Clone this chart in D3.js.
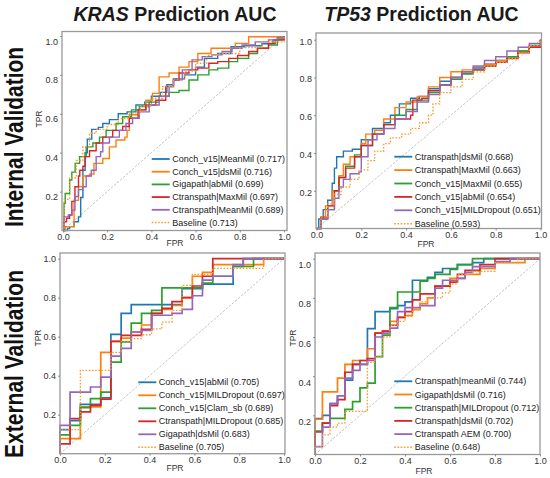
<!DOCTYPE html>
<html>
<head>
<meta charset="utf-8">
<script src="https://cdn.jsdelivr.net/npm/d3@7"></script>
<style>
  body { margin: 0; background: #fff; }
  text { font-family: "Liberation Sans", Arial, sans-serif; }
</style>
</head>
<body>
<svg id="chart" width="550" height="478"></svg>
<script>
// tick values shared by every panel
const xTicks = [0, 0.2, 0.4, 0.6, 0.8, 1.0];
const yTicks = [0.2, 0.4, 0.6, 0.8, 1.0];

// ---- KRAS, internal validation (fpr, tpr) ----
const krasIntNames = ["Conch_v15|MeanMil (0.717)", "Conch_v15|dsMil (0.716)", "Gigapath|abMil (0.699)",
  "Ctranspath|MaxMil (0.697)", "Ctranspath|MeanMil (0.689)", "Baseline (0.713)"];
const krasIntConchMean = [[0,0],[0.02,0.01],[0.03,0.02],[0.05,0.045],[0.07,0.07],[0.08,0.17],[0.09,0.31],[0.1,0.4],[0.11,0.47],[0.13,0.52],[0.16,0.53],[0.18,0.55],[0.21,0.57],[0.25,0.6],[0.29,0.61],[0.33,0.645],[0.37,0.66],[0.4,0.69],[0.44,0.71],[0.47,0.75],[0.5,0.78],[0.55,0.8],[0.6,0.84],[0.64,0.885],[0.7,0.91],[0.76,0.945],[0.82,0.95],[0.9,0.96],[0.95,0.98],[1,1]];
const krasIntConchDs = [[0,0],[0.01,0.02],[0.05,0.155],[0.07,0.225],[0.09,0.28],[0.12,0.29],[0.14,0.345],[0.18,0.37],[0.21,0.43],[0.24,0.465],[0.28,0.48],[0.29,0.515],[0.3,0.595],[0.34,0.62],[0.375,0.67],[0.405,0.705],[0.435,0.79],[0.48,0.81],[0.525,0.84],[0.57,0.868],[0.61,0.91],[0.67,0.937],[0.78,0.962],[0.84,0.996],[1,1]];
const krasIntGigaAb = [[0,0],[0.005,0.14],[0.01,0.19],[0.03,0.26],[0.04,0.3],[0.055,0.345],[0.075,0.38],[0.105,0.43],[0.135,0.45],[0.165,0.48],[0.195,0.515],[0.24,0.55],[0.27,0.585],[0.31,0.62],[0.345,0.637],[0.39,0.66],[0.435,0.69],[0.48,0.71],[0.525,0.72],[0.57,0.774],[0.61,0.8],[0.66,0.826],[0.7,0.835],[0.75,0.868],[0.79,0.885],[0.84,0.91],[0.88,0.937],[0.93,0.954],[0.97,0.99],[1,1]];
const krasIntCtransMax = [[0,0],[0.005,0.045],[0.016,0.063],[0.03,0.08],[0.04,0.15],[0.054,0.225],[0.07,0.28],[0.076,0.31],[0.09,0.33],[0.1,0.38],[0.12,0.41],[0.15,0.45],[0.18,0.48],[0.225,0.515],[0.27,0.535],[0.3,0.577],[0.34,0.62],[0.375,0.645],[0.42,0.67],[0.465,0.74],[0.5,0.774],[0.525,0.81],[0.57,0.826],[0.61,0.835],[0.66,0.86],[0.7,0.868],[0.75,0.885],[0.79,0.9],[0.84,0.92],[0.88,0.937],[0.93,0.962],[0.96,0.98],[1,1]];
const krasIntCtransMean = [[0,0],[0.005,0.07],[0.024,0.08],[0.04,0.105],[0.054,0.175],[0.07,0.21],[0.09,0.225],[0.105,0.28],[0.128,0.31],[0.15,0.38],[0.17,0.405],[0.18,0.45],[0.21,0.48],[0.255,0.515],[0.285,0.55],[0.315,0.577],[0.345,0.61],[0.39,0.645],[0.435,0.69],[0.48,0.74],[0.5,0.775],[0.54,0.826],[0.584,0.877],[0.63,0.894],[0.674,0.903],[0.72,0.92],[0.765,0.937],[0.81,0.954],[0.87,0.97],[0.93,0.98],[0.97,0.993],[1,1]];
const krasIntBaseline = [[0,0],[0.005,0.16],[0.03,0.27],[0.06,0.36],[0.09,0.43],[0.12,0.5],[0.15,0.52],[0.2,0.545],[0.25,0.575],[0.3,0.6],[0.35,0.64],[0.4,0.68],[0.45,0.74],[0.5,0.78],[0.55,0.82],[0.6,0.86],[0.65,0.9],[0.7,0.91],[0.8,0.94],[0.9,0.97],[1,1]];

// ---- TP53, internal validation ----
const tp53IntNames = ["Ctranspath|dsMil (0.668)", "Ctranspath|MaxMil (0.663)", "Conch_v15|MaxMil (0.655)",
  "Conch_v15|abMil (0.654)", "Conch_v15|MILDropout (0.651)", "Baseline (0.593)"];
const tp53IntCtransDs = [[0,0],[0.01,0.05],[0.03,0.1],[0.05,0.15],[0.07,0.24],[0.08,0.32],[0.09,0.38],[0.12,0.41],[0.16,0.42],[0.2,0.47],[0.25,0.53],[0.3,0.56],[0.33,0.6],[0.37,0.66],[0.42,0.69],[0.46,0.7],[0.5,0.74],[0.55,0.78],[0.6,0.8],[0.65,0.82],[0.7,0.85],[0.75,0.87],[0.8,0.89],[0.85,0.91],[0.9,0.94],[0.95,0.96],[1,1]];
const tp53IntCtransMax = [[0,0],[0.02,0.06],[0.04,0.12],[0.07,0.2],[0.1,0.28],[0.12,0.34],[0.15,0.38],[0.2,0.45],[0.22,0.5],[0.26,0.52],[0.3,0.58],[0.35,0.64],[0.4,0.67],[0.45,0.7],[0.5,0.75],[0.55,0.8],[0.6,0.83],[0.65,0.84],[0.7,0.86],[0.75,0.87],[0.8,0.89],[0.85,0.91],[0.9,0.94],[0.95,0.96],[1,1]];
const tp53IntConchMax = [[0,0],[0.02,0.05],[0.05,0.1],[0.08,0.2],[0.1,0.27],[0.13,0.33],[0.17,0.39],[0.2,0.44],[0.25,0.5],[0.3,0.55],[0.35,0.6],[0.4,0.63],[0.45,0.68],[0.5,0.72],[0.55,0.76],[0.6,0.79],[0.65,0.82],[0.7,0.84],[0.75,0.86],[0.8,0.88],[0.85,0.91],[0.9,0.94],[0.95,0.97],[1,1]];
const tp53IntConchAb = [[0,0],[0.02,0.06],[0.05,0.12],[0.08,0.2],[0.1,0.27],[0.13,0.32],[0.17,0.38],[0.2,0.44],[0.25,0.5],[0.3,0.55],[0.35,0.58],[0.42,0.6],[0.43,0.68],[0.47,0.69],[0.5,0.73],[0.55,0.76],[0.6,0.8],[0.65,0.83],[0.7,0.84],[0.75,0.86],[0.8,0.88],[0.85,0.9],[0.9,0.93],[0.95,0.96],[1,1]];
const tp53IntConchMil = [[0,0],[0.02,0.05],[0.05,0.1],[0.08,0.16],[0.1,0.22],[0.12,0.26],[0.15,0.29],[0.19,0.3],[0.2,0.38],[0.23,0.47],[0.27,0.5],[0.3,0.53],[0.35,0.58],[0.4,0.62],[0.45,0.67],[0.5,0.71],[0.55,0.76],[0.6,0.8],[0.65,0.83],[0.7,0.86],[0.75,0.89],[0.8,0.91],[0.85,0.94],[0.9,0.96],[0.95,0.98],[1,1]];
const tp53IntBaseline = [[0,0],[0.02,0.06],[0.05,0.13],[0.08,0.18],[0.11,0.22],[0.15,0.26],[0.19,0.31],[0.23,0.36],[0.26,0.41],[0.3,0.45],[0.33,0.48],[0.38,0.5],[0.42,0.53],[0.46,0.56],[0.5,0.6],[0.52,0.66],[0.55,0.72],[0.6,0.75],[0.65,0.79],[0.7,0.83],[0.75,0.86],[0.8,0.88],[0.85,0.9],[0.9,0.93],[0.95,0.97],[1,1]];

// ---- KRAS, external validation ----
const krasExtNames = ["Conch_v15|abMil (0.705)", "Conch_v15|MILDropout (0.697)", "Conch_v15|Clam_sb (0.689)",
  "Ctranspath|MILDropout (0.685)", "Gigapath|dsMil (0.683)", "Baseline (0.705)"];
const krasExtConchAb = [[0,0],[0,0.123],[0.045,0.17],[0.091,0.253],[0.182,0.287],[0.227,0.612],[0.273,0.72],[0.318,0.765],[0.545,0.846],[0.636,0.87],[0.773,0.96],[0.818,1],[1,1]];
const krasExtConchMil = [[0,0],[0,0.077],[0.091,0.24],[0.182,0.52],[0.227,0.576],[0.273,0.593],[0.318,0.624],[0.364,0.66],[0.409,0.72],[0.455,0.74],[0.5,0.76],[0.545,0.8],[0.591,0.91],[0.636,0.93],[0.682,0.97],[0.909,1],[1,1]];
const krasExtConchClam = [[0,0],[0,0.097],[0.045,0.145],[0.091,0.236],[0.136,0.282],[0.182,0.316],[0.227,0.47],[0.273,0.573],[0.318,0.67],[0.364,0.72],[0.409,0.735],[0.455,0.85],[0.591,0.85],[0.636,0.875],[0.682,0.91],[0.773,0.96],[0.864,1],[1,1]];
const krasExtCtransMil = [[0,0],[0,0.05],[0.045,0.18],[0.091,0.214],[0.136,0.248],[0.182,0.28],[0.227,0.576],[0.273,0.607],[0.364,0.638],[0.409,0.72],[0.455,0.745],[0.5,0.78],[0.545,0.8],[0.591,0.86],[0.636,0.91],[0.682,1],[1,1]];
const krasExtGigaDs = [[0,0],[0,0.145],[0.045,0.316],[0.136,0.342],[0.182,0.393],[0.227,0.5],[0.273,0.54],[0.318,0.624],[0.364,0.632],[0.409,0.71],[0.5,0.72],[0.545,0.74],[0.591,0.81],[0.636,0.89],[0.682,0.91],[0.773,0.97],[0.818,1],[1,1]];
const krasExtBaseline = [[0,0],[0,0.123],[0.091,0.427],[0.227,0.52],[0.273,0.576],[0.318,0.59],[0.364,0.61],[0.409,0.64],[0.455,0.675],[0.5,0.735],[0.545,0.863],[0.591,0.92],[0.682,0.95],[0.909,1],[1,1]];

// ---- TP53, external validation ----
const tp53ExtNames = ["Ctranspath|meanMil (0.744)", "Gigapath|dsMil (0.716)", "Ctranspath|MILDropout (0.712)",
  "Ctranspath|dsMil (0.702)", "Ctranspath AEM (0.700)", "Baseline (0.648)"];
const tp53ExtCtransMean = [[0,0],[0,0.183],[0.033,0.2],[0.067,0.26],[0.1,0.3],[0.133,0.38],[0.167,0.46],[0.233,0.643],[0.267,0.73],[0.333,0.745],[0.367,0.76],[0.4,0.78],[0.433,0.89],[0.5,0.905],[0.533,0.93],[0.567,0.95],[0.633,0.97],[0.7,0.98],[0.75,1],[1,1]];
const tp53ExtGigaDs = [[0,0],[0,0.18],[0.033,0.32],[0.1,0.39],[0.133,0.46],[0.167,0.48],[0.233,0.54],[0.267,0.62],[0.3,0.63],[0.333,0.68],[0.367,0.7],[0.4,0.71],[0.433,0.74],[0.467,0.77],[0.5,0.8],[0.533,0.86],[0.6,0.9],[0.667,0.92],[0.733,0.95],[0.8,0.98],[0.933,1],[1,1]];
const tp53ExtCtransMil = [[0,0],[0,0.12],[0.033,0.16],[0.067,0.185],[0.133,0.23],[0.167,0.27],[0.2,0.34],[0.233,0.365],[0.267,0.5],[0.3,0.61],[0.333,0.75],[0.367,0.83],[0.467,0.885],[0.5,0.9],[0.533,0.92],[0.6,0.945],[0.633,0.97],[0.7,1],[1,1]];
const tp53ExtCtransDs = [[0,0],[0,0.115],[0.033,0.16],[0.067,0.25],[0.1,0.28],[0.133,0.42],[0.167,0.46],[0.2,0.48],[0.233,0.49],[0.267,0.62],[0.3,0.63],[0.333,0.66],[0.367,0.7],[0.4,0.73],[0.433,0.79],[0.467,0.82],[0.533,0.86],[0.6,0.88],[0.633,0.92],[0.667,0.94],[0.733,0.97],[0.8,1],[1,1]];
const tp53ExtCtransAem = [[0,0],[0,0.04],[0.033,0.14],[0.067,0.26],[0.1,0.3],[0.133,0.39],[0.167,0.43],[0.2,0.46],[0.233,0.48],[0.267,0.6],[0.3,0.62],[0.333,0.645],[0.367,0.73],[0.4,0.75],[0.467,0.76],[0.533,0.85],[0.567,0.89],[0.633,0.9],[0.667,0.93],[0.7,0.96],[0.8,0.985],[0.867,1],[1,1]];
const tp53ExtBaseline = [[0,0],[0,0.04],[0.033,0.1],[0.067,0.14],[0.1,0.16],[0.133,0.22],[0.233,0.47],[0.267,0.5],[0.3,0.6],[0.333,0.66],[0.367,0.68],[0.4,0.705],[0.433,0.74],[0.467,0.78],[0.5,0.8],[0.567,0.825],[0.6,0.87],[0.633,0.92],[0.7,0.935],[0.8,0.98],[0.9,1],[1,1]];

const colors = ["#1f77b4", "#ff7f0e", "#2ca02c", "#d62728", "#9467bd", "#fb9a2c"];

// layout: frame box, where 0 and 1 land, legend spot
const panels = [
  { names: krasIntNames, curves: [krasIntConchMean, krasIntConchDs, krasIntGigaAb, krasIntCtransMax, krasIntCtransMean, krasIntBaseline],
    frame: [62, 31.5, 287, 230.5], xr: [63, 284], yr: [230.5, 36], yDy: 5,
    legend: [151.7, 159, 12.7], tpr: [39, 119], fpr: [175, 243] },
  { names: tp53IntNames, curves: [tp53IntCtransDs, tp53IntCtransMax, tp53IntConchMax, tp53IntConchAb, tp53IntConchMil, tp53IntBaseline],
    frame: [316, 33, 541.5, 228.5], xr: [316.5, 540.5], yr: [228.5, 39.7], yDy: 1.5,
    legend: [394.3, 156.7, 13.4], tpr: null, fpr: [426, 244] },
  { names: krasExtNames, curves: [krasExtConchAb, krasExtConchMil, krasExtConchClam, krasExtCtransMil, krasExtGigaDs, krasExtBaseline],
    frame: [60, 253, 285, 453.7], xr: [60, 284], yr: [453.7, 258.7], yDy: 0,
    legend: [138.3, 382.3, 13], tpr: [38, 338], fpr: [175, 468] },
  { names: tp53ExtNames, curves: [tp53ExtCtransMean, tp53ExtGigaDs, tp53ExtCtransMil, tp53ExtCtransDs, tp53ExtCtransAem, tp53ExtBaseline],
    frame: [315, 253, 540, 454.5], xr: [315, 540], yr: [454.5, 258.7], yDy: 6,
    legend: [394.3, 381.3, 13.2], tpr: [293, 338], fpr: [424, 471] }
];

const svg = d3.select("#chart");

// column titles
const titles = [["KRAS", " Prediction AUC", 175], ["TP53", " Prediction AUC", 421.5]];
titles.forEach(t => {
  const txt = svg.append("text")
    .attr("x", t[2]).attr("y", 20.7)
    .attr("text-anchor", "middle")
    .attr("font-size", 19.5).attr("font-weight", "bold").attr("fill", "#1a1a1a");
  txt.append("tspan").attr("font-style", "italic").text(t[0]);
  txt.append("tspan").text(t[1]);
});

// row titles
const rows = [["Internal Validation", 137, 180], ["External Validation", 364, 188]];
rows.forEach(r => {
  svg.append("text")
    .attr("transform", `translate(23,${r[1]}) rotate(-90)`)
    .attr("text-anchor", "middle")
    .attr("font-size", 26).attr("font-weight", "bold").attr("fill", "#111")
    .attr("textLength", r[2]).attr("lengthAdjust", "spacingAndGlyphs")
    .text(r[0]);
});

panels.forEach((p, pi) => {
  const x = d3.scaleLinear().domain([0, 1]).range(p.xr);
  const y = d3.scaleLinear().domain([0, 1]).range(p.yr);
  const g = svg.append("g");
  const [fx0, fy0, fx1, fy1] = p.frame;

  // chance line
  g.append("line")
    .attr("x1", x(0)).attr("y1", y(0)).attr("x2", x(1)).attr("y2", y(1))
    .attr("stroke", "#aaa").attr("stroke-width", 0.7).attr("stroke-dasharray", "2.5,1.5");

  const line = d3.line()
    .x(d => x(d[0]))
    .y(d => y(d[1]))
    .curve(d3.curveStepAfter);

  p.curves.forEach((c, i) => {
    const base = i === 5;
    g.append("path")
      .attr("d", line(c))
      .attr("fill", "none")
      .attr("stroke", colors[i])
      .attr("stroke-width", base ? 1.3 : (pi < 2 ? 1.4 : 1.7))
      .attr("stroke-dasharray", base ? "1.6,1.6" : null);
  });

  // frame
  g.append("rect")
    .attr("x", fx0).attr("y", fy0).attr("width", fx1 - fx0).attr("height", fy1 - fy0)
    .attr("fill", "none").attr("stroke", "#999").attr("stroke-width", 1.3);

  // axes
  const ax = g.append("g")
    .attr("transform", `translate(0,${fy1})`)
    .call(d3.axisBottom(x).tickValues(xTicks).tickSize(2).tickPadding(1).tickFormat(d3.format(".1f")));
  const ay = g.append("g")
    .attr("transform", `translate(${fx0},0)`)
    .call(d3.axisLeft(y).tickValues(yTicks).tickSize(2).tickPadding(2).tickFormat(d3.format(".1f")));
  [ax, ay].forEach(a => {
    a.select(".domain").remove();
    a.selectAll(".tick line").attr("stroke", "#777").attr("stroke-width", 0.8);
    a.selectAll(".tick text").attr("fill", "#333").attr("font-size", 9)
      .attr("font-family", "Liberation Sans, Arial, sans-serif");
  });
  ay.selectAll(".tick text").attr("dy", null).attr("dominant-baseline", "central")
    .attr("transform", `translate(0,${p.yDy})`);

  // axis labels
  g.append("text")
    .attr("x", p.fpr[0]).attr("y", p.fpr[1])
    .attr("text-anchor", "middle").attr("dominant-baseline", "central")
    .attr("font-size", 8.5).attr("fill", "#333").text("FPR");
  if (p.tpr) {
    g.append("text")
      .attr("transform", `translate(${p.tpr[0]},${p.tpr[1]}) rotate(-90)`)
      .attr("text-anchor", "middle").attr("dominant-baseline", "central")
      .attr("font-size", 8.5).attr("fill", "#333").text("TPR");
  }

  // legend
  const [lx, ly, step] = p.legend;
  const leg = g.selectAll(".leg").data(p.names).join("g")
    .attr("transform", (d, i) => `translate(${lx},${ly + i * step})`);
  leg.append("line")
    .attr("x1", 0).attr("x2", 18).attr("y1", 0).attr("y2", 0)
    .attr("stroke", (d, i) => colors[i])
    .attr("stroke-width", (d, i) => i === 5 ? 1.4 : 1.8)
    .attr("stroke-dasharray", (d, i) => i === 5 ? "1.6,1.6" : null);
  leg.append("text")
    .attr("x", 20.5).attr("y", 0)
    .attr("dominant-baseline", "central")
    .attr("font-size", 9).attr("fill", "#222")
    .text(d => d);
});
</script>
</body>
</html>
